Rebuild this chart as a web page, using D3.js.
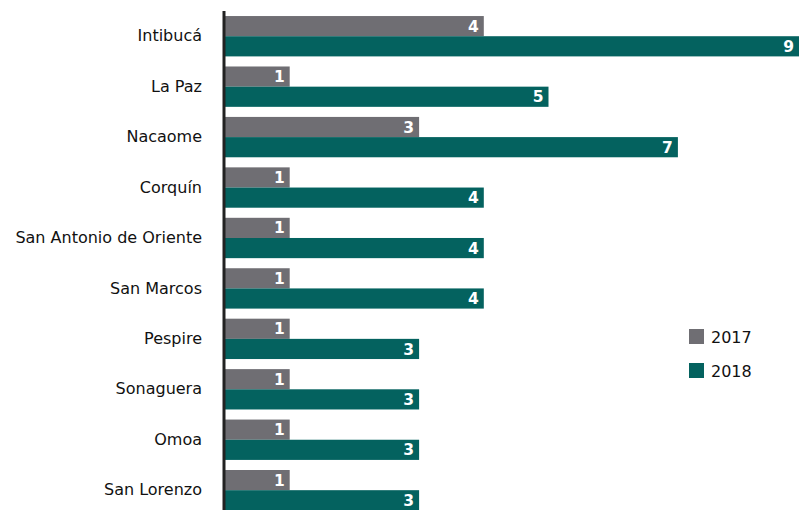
<!DOCTYPE html>
<html><head><meta charset="utf-8">
<script src="https://cdn.jsdelivr.net/npm/d3@7"></script>
<style>body{margin:0;background:#fff}svg{display:block}</style>
</head><body>
<svg id="c" width="799" height="510"></svg>
<script>
const categories = ["Intibucá","La Paz","Nacaome","Corquín","San Antonio de Oriente","San Marcos","Pespire","Sonaguera","Omoa","San Lorenzo"];
const series = ["2017","2018"];
const values2017 = [4,1,3,1,1,1,1,1,1,1];
const values2018 = [9,5,7,4,4,4,3,3,3,3];
const colors = ["#6f6e73","#04625f"];

const svg = d3.select("#c");
const font = "'DejaVu Sans', Verdana, sans-serif";
const x = d3.scaleLinear().domain([0,9]).range([225, 807.3]);
const y = d3.scaleBand().domain(categories).range([11, 515.4]).paddingInner(0.2).paddingOuter(0.1);
const sub = d3.scaleBand().domain(series).range([0, y.bandwidth()]);

const data = categories.map((c,i)=>({c, v:[values2017[i], values2018[i]]}));
const g = svg.selectAll("g.cat").data(data).join("g").attr("class","cat")
  .attr("transform", d=>`translate(0,${y(d.c)})`);
series.forEach((s,si)=>{
  g.append("rect").attr("x", x(0)).attr("y", sub(s)).attr("width", d=>x(d.v[si])-x(0))
    .attr("height", sub.bandwidth()).attr("fill", colors[si]);
  g.append("text").attr("x", d=>Math.min(x(d.v[si]),799)-5).attr("y", sub(s)+sub.bandwidth()/2)
    .attr("dy","0.36em").attr("text-anchor","end").attr("fill","#fff")
    .attr("font-family",font).attr("font-weight","bold").attr("font-size",15.5)
    .text(d=>d.v[si]);
});

// category labels
const axis = d3.axisLeft(y).tickSize(0).tickPadding(0);
const ag = svg.append("g").attr("transform","translate(202,0)").call(axis);
ag.select(".domain").remove();
ag.selectAll("text").attr("font-family",font).attr("font-size",16).attr("fill","#111");

svg.append("line").attr("x1",224).attr("x2",224).attr("y1",11).attr("y2",510)
  .attr("stroke","#222").attr("stroke-width",3);

// legend
const lg = svg.append("g");
series.forEach((s,i)=>{
  lg.append("rect").attr("x",689).attr("y",329+i*34).attr("width",15).attr("height",15).attr("fill",colors[i]);
  lg.append("text").attr("x",711).attr("y",337+i*34).attr("dy","0.36em")
    .attr("font-family",font).attr("font-size",16).attr("fill","#111").text(s);
});
</script>
</body></html>
